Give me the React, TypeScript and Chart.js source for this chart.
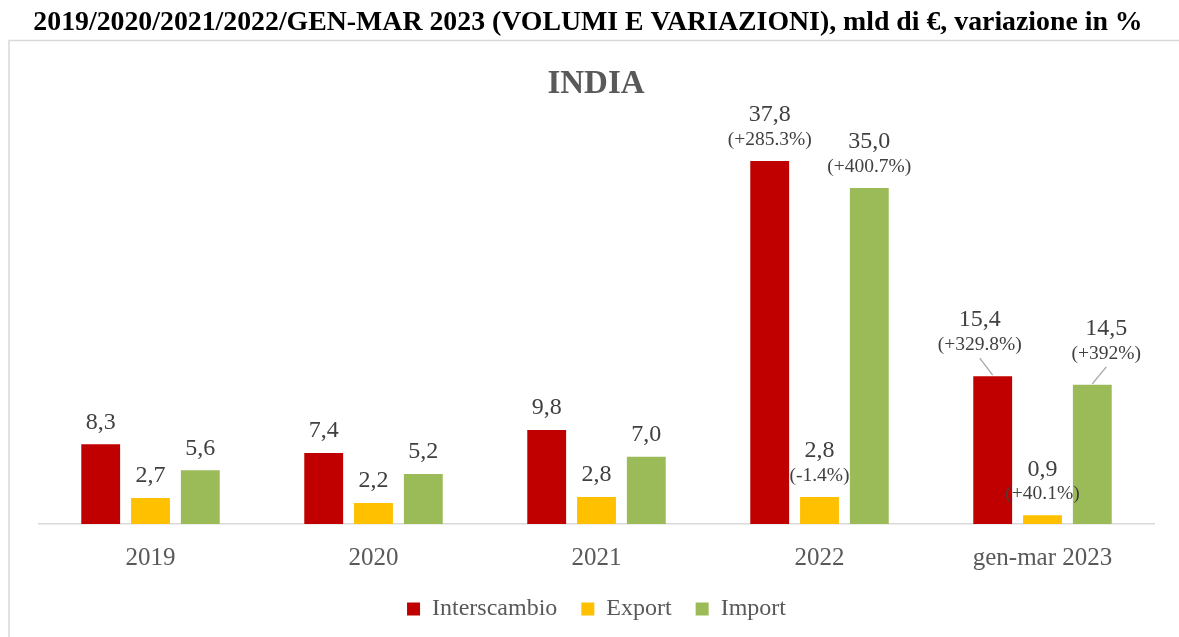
import { useEffect, useRef } from "react";
import { Chart, registerables } from "chart.js";

Chart.register(...registerables);

const categories = ["2019", "2020", "2021", "2022", "gen-mar 2023"];
const interscambio = [8.3, 7.4, 9.8, 37.8, 15.4];
const exportVals = [2.7, 2.2, 2.8, 2.8, 0.9];
const importVals = [5.6, 5.2, 7.0, 35.0, 14.5];
const interscambioPct = [null, null, null, "(+285.3%)", "(+329.8%)"];
const exportPct = [null, null, null, "(-1.4%)", "(+40.1%)"];
const importPct = [null, null, null, "(+400.7%)", "(+392%)"];
const seriesNames = ["Interscambio", "Export", "Import"];
const seriesColors = ["#C00000", "#FFC000", "#9BBB59"];
const chartTitle = "2019/2020/2021/2022/GEN-MAR 2023 (VOLUMI E VARIAZIONI), mld di €, variazione in %";
const chartSubtitle = "INDIA";

const FONT = "'Liberation Serif', 'Times New Roman', serif";

// label placement styles: [datasetIndex, categoryIndex] -> horizontal shift (with leader line)
const leaderShift: Record<string, number> = { "0-4": -13, "2-4": 14 };

const decorPlugin = {
  id: "decor",
  beforeDraw(chart: any) {
    const ctx = chart.ctx;
    const w = chart.width;
    const h = chart.height;
    ctx.save();
    ctx.fillStyle = "#ffffff";
    ctx.fillRect(0, 0, w, h);
    // frame
    ctx.strokeStyle = "#d9d9d9";
    ctx.lineWidth = 1.5;
    ctx.beginPath();
    ctx.moveTo(9, h);
    ctx.lineTo(9, 40.5);
    ctx.lineTo(w, 40.5);
    ctx.stroke();
    // main title
    ctx.fillStyle = "#000000";
    ctx.textAlign = "center";
    ctx.textBaseline = "middle";
    ctx.font = `bold 24px ${FONT}`;
    const mw = ctx.measureText(chartTitle).width;
    const size = 24 * 1110 / mw;
    ctx.font = `bold ${size.toFixed(2)}px ${FONT}`;
    ctx.fillText(chartTitle, 588, 23);
    // subtitle
    ctx.fillStyle = "#595959";
    ctx.font = `bold 33px ${FONT}`;
    ctx.fillText(chartSubtitle, 596, 84);
    ctx.restore();
  },
  afterDatasetsDraw(chart: any) {
    const ctx = chart.ctx;
    const pcts = [interscambioPct, exportPct, importPct];
    ctx.save();
    ctx.textAlign = "center";
    ctx.textBaseline = "middle";
    chart.data.datasets.forEach((ds: any, di: number) => {
      const meta = chart.getDatasetMeta(di);
      meta.data.forEach((bar: any, i: number) => {
        const v = ds.data[i];
        const txt = v.toFixed(1).replace(".", ",");
        const pct = pcts[di][i];
        const key = `${di}-${i}`;
        const shift = leaderShift[key];
        const x = bar.x;
        const top = bar.y;
        ctx.fillStyle = "#404040";
        if (shift !== undefined) {
          const lx = x + shift;
          ctx.font = `24px ${FONT}`;
          ctx.fillText(txt, lx, top - 56);
          ctx.font = `19.5px ${FONT}`;
          ctx.fillText(pct, lx, top - 31);
          ctx.strokeStyle = "#a6a6a6";
          ctx.lineWidth = 1.3;
          ctx.beginPath();
          ctx.moveTo(lx, top - 18);
          ctx.lineTo(x, top - 1);
          ctx.stroke();
        } else if (pct) {
          ctx.font = `24px ${FONT}`;
          ctx.fillText(txt, x, top - 46);
          ctx.font = `19.5px ${FONT}`;
          ctx.fillText(pct, x, top - 21);
        } else {
          ctx.font = `24px ${FONT}`;
          ctx.fillText(txt, x, top - 22);
        }
      });
    });
    ctx.restore();
  },
};

export default function App() {
  const ref = useRef<HTMLCanvasElement | null>(null);

  useEffect(() => {
    if (!ref.current) return;
    const values = [interscambio, exportVals, importVals];
    const chart = new Chart(ref.current, {
      type: "bar",
      data: {
        labels: categories,
        datasets: seriesNames.map((name, k) => ({
          label: name,
          data: values[k],
          backgroundColor: seriesColors[k],
          borderWidth: 0,
          barPercentage: 0.78,
          categoryPercentage: 0.67,
        })),
      },
      options: {
        animation: false,
        responsive: true,
        maintainAspectRatio: false,
        layout: { padding: { left: 39, right: 25, top: 140, bottom: 6 } },
        plugins: {
          title: { display: false },
          tooltip: { enabled: false },
          legend: {
            position: "bottom",
            labels: {
              boxWidth: 13,
              boxHeight: 13,
              padding: 24,
              color: "#595959",
              font: { family: FONT, size: 24 },
            },
          },
        },
        scales: {
          x: {
            grid: { display: false, drawTicks: false },
            border: { display: true, color: "#d9d9d9", width: 1.5 },
            ticks: {
              color: "#595959",
              font: { family: FONT, size: 25 },
              padding: 19,
            },
            afterFit: (s: any) => {
              s.height = 49;
            },
          },
          y: {
            display: false,
            min: 0,
            max: 40,
          },
        },
      },
      plugins: [decorPlugin],
    });
    return () => chart.destroy();
  }, []);

  return (
    <div style={{ position: "absolute", left: 0, top: 0, width: 1179, height: 637 }}>
      <canvas ref={ref} />
    </div>
  );
}
